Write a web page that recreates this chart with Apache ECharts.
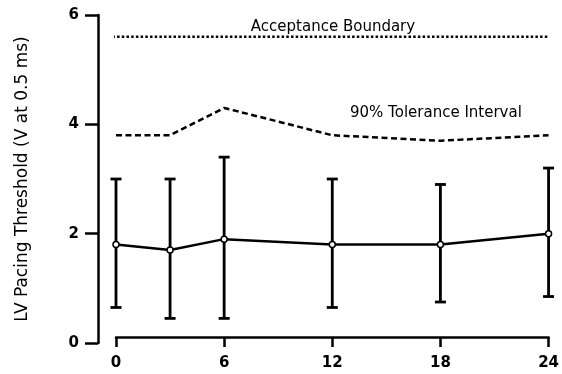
<!DOCTYPE html>
<html>
<head>
<meta charset="utf-8">
<script src="https://cdn.jsdelivr.net/npm/echarts@6/dist/echarts.min.js"></script>
<style>
  html, body { margin: 0; padding: 0; background: #fff; }
  #chart { width: 562px; height: 374px; }
</style>
</head>
<body>
<div id="chart"></div>
<script>
// hours after implant
var hours = [0, 3, 6, 12, 18, 24]
// mean LV threshold and error bar ends
var meanValues = [1.8, 1.7, 1.9, 1.8, 1.8, 2.0]
var lowValues = [0.65, 0.45, 0.45, 0.65, 0.75, 0.85]
var highValues = [3.0, 3.0, 3.4, 3.0, 2.9, 3.2]
// 90% tolerance interval upper bound
var toleranceValues = [3.8, 3.8, 4.3, 3.8, 3.7, 3.8]
var acceptanceBoundary = 5.6
var xTicks = [0, 6, 12, 18, 24]
var yTicks = [0, 2, 4, 6]

var font = 'DejaVu Sans'
var chart = echarts.init(document.getElementById('chart'))

function pairs(ys) {
  return hours.map(function (h, i) { return [h, ys[i]] })
}

chart.setOption({
  animation: false,
  grid: { left: 116, right: 10, top: 15, bottom: 31 },
  xAxis: {
    type: 'value',
    min: xTicks[0],
    max: xTicks[xTicks.length - 1],
    interval: 6,
    offset: -6,
    axisLine: { onZero: false, lineStyle: { color: '#000', width: 2.5 } },
    axisTick: { length: 10, lineStyle: { color: '#000', width: 2.5 } },
    axisLabel: { color: '#000', fontSize: 15, fontWeight: 'bold', fontFamily: font, margin: 19 },
    splitLine: { show: false }
  },
  yAxis: {
    type: 'value',
    min: yTicks[0],
    max: yTicks[yTicks.length - 1],
    interval: 2,
    offset: 18,
    name: 'LV Pacing Threshold (V at 0.5 ms)',
    nameLocation: 'middle',
    nameGap: 67,
    nameTextStyle: { color: '#000', fontSize: 17, fontFamily: font },
    axisLine: { show: true, onZero: false, lineStyle: { color: '#000', width: 2.5 } },
    axisTick: { show: true, length: 13, lineStyle: { color: '#000', width: 2.5 } },
    axisLabel: { color: '#000', fontSize: 15, fontWeight: 'bold', fontFamily: font, margin: 19 },
    splitLine: { show: false }
  },
  graphic: [
    {
      type: 'text', x: 333, y: 27,
      style: { text: 'Acceptance Boundary', fill: '#000', font: '15px "DejaVu Sans"', textAlign: 'center', textVerticalAlign: 'middle' }
    },
    {
      type: 'text', x: 350, y: 113,
      style: { text: '90% Tolerance Interval', fill: '#000', font: '15px "DejaVu Sans"', textAlign: 'left', textVerticalAlign: 'middle' }
    }
  ],
  series: [
    {
      type: 'line',
      data: [[-0.2, acceptanceBoundary], [24, acceptanceBoundary]],
      symbol: 'none',
      lineStyle: { color: '#000', width: 2.5, type: [2.5, 2.2] },
      z: 1
    },
    {
      type: 'line',
      data: pairs(toleranceValues),
      symbol: 'none',
      lineStyle: { color: '#000', width: 2.5, type: [6, 3.5] },
      z: 1
    },
    {
      type: 'custom',
      data: hours.map(function (h, i) { return [h, lowValues[i], highValues[i]] }),
      renderItem: function (params, api) {
        var lo = api.coord([api.value(0), api.value(1)])
        var hi = api.coord([api.value(0), api.value(2)])
        var w = 5.5
        var st = { stroke: '#000', lineWidth: 2.8 }
        return {
          type: 'group',
          children: [
            { type: 'line', shape: { x1: lo[0], y1: lo[1], x2: hi[0], y2: hi[1] }, style: st },
            { type: 'line', shape: { x1: lo[0] - w, y1: lo[1], x2: lo[0] + w, y2: lo[1] }, style: st },
            { type: 'line', shape: { x1: hi[0] - w, y1: hi[1], x2: hi[0] + w, y2: hi[1] }, style: st }
          ]
        }
      },
      z: 2
    },
    {
      type: 'line',
      data: pairs(meanValues),
      symbol: 'circle',
      symbolSize: 6,
      itemStyle: { color: '#fff', borderColor: '#000', borderWidth: 1.5 },
      lineStyle: { color: '#000', width: 2.5 },
      z: 3
    }
  ]
})
</script>
</body>
</html>
